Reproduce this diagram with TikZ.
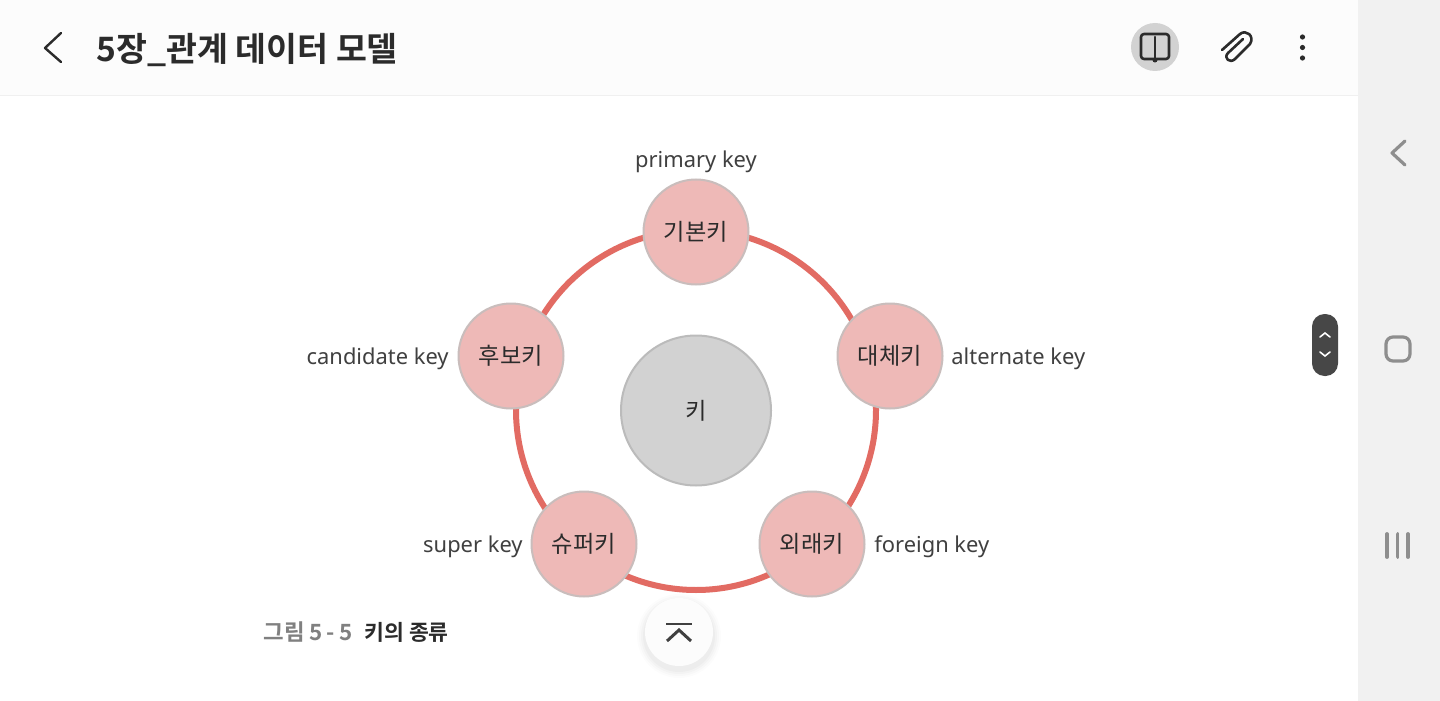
\documentclass[tikz,border=0pt]{standalone}
\usepackage{fontspec}
\setmainfont{Noto Sans}
\newfontfamily\kr{Noto Sans CJK KR}
\newfontfamily\krb{Noto Sans CJK KR Bold}
\definecolor{ringred}{HTML}{E26B63}
\definecolor{pinkfill}{HTML}{EEB9B7}
\definecolor{pinkline}{HTML}{C9BDBC}
\definecolor{greyfill}{HTML}{D2D2D2}
\definecolor{greyline}{HTML}{BBBBBB}
\definecolor{barbg}{HTML}{FCFCFC}
\definecolor{sidebg}{HTML}{F1F1F1}
\definecolor{inkdark}{HTML}{2B2B2B}
\definecolor{navgrey}{HTML}{8E8E8E}
\tikzset{
  keycirc/.style={circle,draw=pinkline,line width=1pt,fill=pinkfill,minimum size=52.5pt,inner sep=0pt,text=inkdark,font=\kr\fontsize{11.6}{14}\selectfont},
  centercirc/.style={circle,draw=greyline,line width=1pt,fill=greyfill,minimum size=75pt,inner sep=0pt,text=inkdark,font=\kr\fontsize{11.6}{14}\selectfont},
  latinlabel/.style={inner sep=0pt,text=inkdark!90,font=\fontsize{10.95}{13}\selectfont},
  icon/.style={draw=inkdark,line width=1.3pt,line cap=round,line join=round},
  navicon/.style={draw=navgrey,line width=1.6pt,line join=round,line cap=round}
}
\begin{document}
\begin{tikzpicture}[x=0.5pt,y=-0.5pt]
\useasboundingbox (0,0) rectangle (1440,701);
\fill[white] (0,0) rectangle (1440,701);
\fill[barbg] (0,0) rectangle (1358,95);
\draw[black!6,line width=0.6pt] (0,95.5) -- (1358,95.5);
\fill[sidebg] (1358,0) rectangle (1440,701);
% title bar
\draw[inkdark,line width=1.2pt,line cap=round,line join=round] (61,33) -- (45,48) -- (61,62);
\node[anchor=west,inner sep=0pt,text=inkdark,font=\krb\fontsize{16.8}{20}\selectfont] (title) at (96,50) {5장\_관계 데이터 모델};
\fill[greyfill] (1155,47) circle (24);
\draw[icon,rounded corners=1.5pt] (1155,59) -- (1141,59) -- (1141,34) -- (1155,34) -- (1169,34) -- (1169,59) -- (1155,59);
\draw[icon] (1155,37) -- (1155,61);
\fill[inkdark] (1155,60) circle (2.5);
\draw[icon] (1222,50) -- (1240,34) .. controls (1246,29) and (1255,36) .. (1250,44) -- (1235,59) .. controls (1230,64) and (1223,58) .. (1228,53) -- (1243,39);
\fill[inkdark] (1302.5,37) circle (2.6) (1302.5,47.5) circle (2.6) (1302.5,58) circle (2.6);
% ring
\coordinate (ringc) at (696,410);
\draw[ringred,line width=3pt] (ringc) circle (180);
% nodes
\node[centercirc] (ctr) at (696,410.5) {\raisebox{-0.5pt}{키}};
\node[keycirc] (k1) at (696,232) {\raisebox{-0.5pt}{기본키}};
\node[keycirc] (k2) at (890,356) {\raisebox{-0.5pt}{대체키}};
\node[keycirc] (k3) at (812,544) {\raisebox{-0.5pt}{외래키}};
\node[keycirc] (k4) at (584,544) {\raisebox{-0.5pt}{슈퍼키}};
\node[keycirc] (k5) at (511,356) {\raisebox{-0.5pt}{후보키}};
% labels
\node[latinlabel] (l1) at (696,162) {primary key};
\node[latinlabel,anchor=west] (l2) at (951,359) {alternate key};
\node[latinlabel,anchor=west] (l3) at (874,547) {foreign key};
\node[latinlabel,anchor=east] (l4) at (523,547) {super key};
\node[latinlabel,anchor=east] (l5) at (449,359) {candidate key};
% caption
\node[anchor=west,inner sep=0pt,text=black!50,font=\krb\fontsize{11.2}{13}\selectfont] (cap1) at (263,632) {그림 5\kern2pt-\kern2pt5};
\node[anchor=west,inner sep=0pt,text=inkdark,font=\krb\fontsize{10.8}{13}\selectfont] (cap2) at (364,632) {키의 종류};
% up button
\foreach \r/\o in {42/0.012,40/0.015,38/0.02,36/0.025}{\fill[black,opacity=\o] (679,636) circle (\r);}
\fill[barbg] (679,632) circle (34);
\draw[inkdark!90,line width=1.3pt] (666,624) -- (692,624);
\draw[inkdark!90,line width=1.5pt] (667,641) -- (679,630) -- (691,641);
% scroll handle
\fill[black!72,rounded corners=6.25pt] (1312,314) rectangle (1338,376);
\draw[white,line width=0.8pt,line cap=round] (1320,337) -- (1325,333) -- (1330,337);
\draw[white,line width=0.8pt,line cap=round] (1320,352) -- (1325,356) -- (1330,352);
% nav bar
\draw[navicon] (1405,141) -- (1392,153) -- (1405,165);
\draw[navicon,rounded corners=3.5pt] (1386,337) rectangle (1410,361);
\draw[navicon,line width=1.9pt] (1387,534) -- (1387,557) (1397.5,534) -- (1397.5,557) (1408,534) -- (1408,557);
\end{tikzpicture}
\end{document}
